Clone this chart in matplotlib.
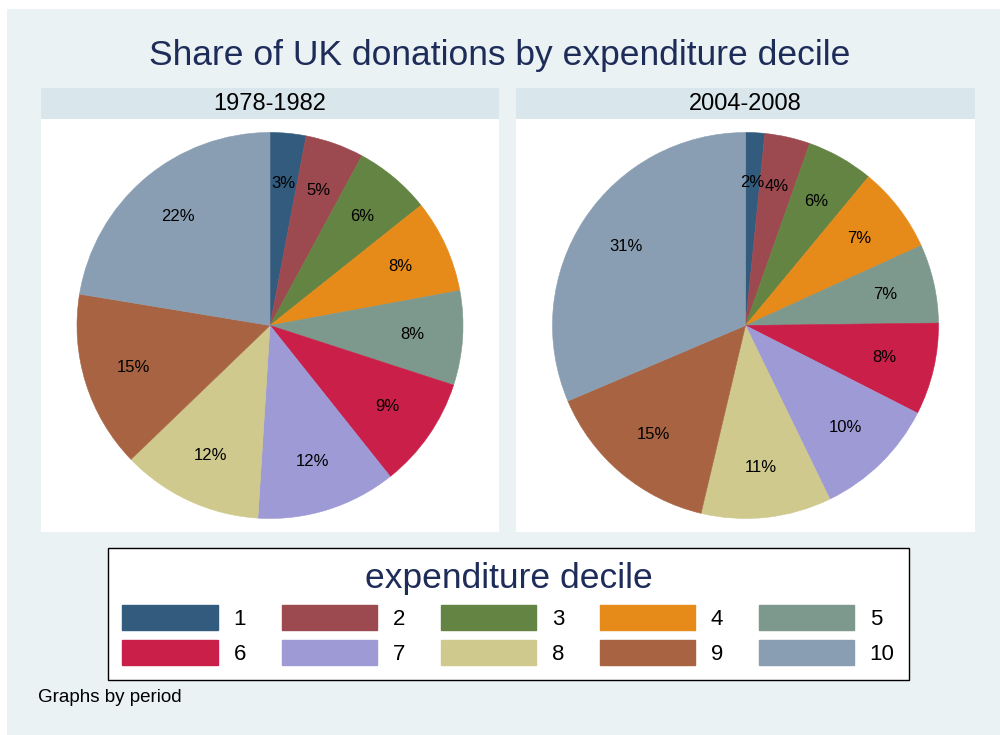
import matplotlib
matplotlib.use('Agg')
import matplotlib.pyplot as plt
from matplotlib.patches import Rectangle, Patch

plt.rcParams['font.family'] = ['Liberation Sans', 'DejaVu Sans']

# data
deciles = ['1', '2', '3', '4', '5', '6', '7', '8', '9', '10']
periods = ['1978-1982', '2004-2008']
share_1978 = [3.0, 4.9, 6.4, 7.8, 7.9, 9.3, 11.7, 11.8, 14.8, 22.4]
share_2004 = [1.6, 3.8, 5.6, 7.2, 6.6, 7.7, 10.3, 10.9, 14.9, 31.4]

# stata s2color-like palette
colors = ['#335B7E', '#9C4A50', '#648444', '#E68A1A', '#7D988C',
          '#C91F48', '#9E9AD6', '#CFC98D', '#A86442', '#8A9EB3']
BG = '#EAF2F3'
STRIP = '#D9E6EB'
NAVY = '#1E2C5A'

W, H = 1000, 735
fig = plt.figure(figsize=(W / 100, H / 100), dpi=100, facecolor='white')

# outer light background
fig.patches.append(Rectangle((7 / W, 0), 1 - 7 / W, 1 - 9 / H, transform=fig.transFigure,
                             facecolor=BG, edgecolor='none', zorder=-10))

fig.text(0.5, 1 - 55 / H, 'Share of UK donations by expenditure decile',
         ha='center', va='center', fontsize=25.5, color=NAVY)

panels = [(41, 499), (516, 975)]
top, bottom = 119, 532
strip_h = 31
radius_px = 193

for (x0, x1), period, vals in zip(panels, periods, [share_1978, share_2004]):
    ax = fig.add_axes([x0 / W, 1 - bottom / H, (x1 - x0) / W, (bottom - top) / H])
    wedges, texts, autotexts = ax.pie(vals, colors=colors, startangle=90, counterclock=False,
                                      autopct='%1.0f%%', pctdistance=0.74,
                                      wedgeprops=dict(linewidth=0.4),
                                      textprops=dict(fontsize=12, color='black'))
    for w, c in zip(wedges, colors):
        w.set_edgecolor(c)
    ax.set_frame_on(True)  # pie() switches the white plot region off
    ax.set_facecolor('white')
    half = (bottom - top) / 2 / radius_px
    ax.set_ylim(-half, half)
    ax.set_xlim(-half * (x1 - x0) / (bottom - top), half * (x1 - x0) / (bottom - top))
    ax.set_aspect('auto')
    ax.set_xticks([])
    ax.set_yticks([])
    for s in ax.spines.values():
        s.set_visible(False)
    # strip title
    ax.add_patch(Rectangle((0, 1), 1, strip_h / (bottom - top), transform=ax.transAxes,
                           facecolor=STRIP, edgecolor='none', clip_on=False))
    ax.text(0.5, 1 + strip_h / 2 / (bottom - top), period, transform=ax.transAxes,
            ha='center', va='center', fontsize=17, color='black')

# legend filled row by row (matplotlib fills column by column)
ncol = 5
order = [r * ncol + c for c in range(ncol) for r in range(2)]
handles = [Patch(facecolor=colors[i], edgecolor=colors[i]) for i in order]
labels = [deciles[i] for i in order]
leg = fig.legend(handles, labels, ncol=ncol, mode='expand',
                 bbox_to_anchor=(108 / W, 1 - 676 / H, 801 / W, 128 / H), loc='upper left',
                 fontsize=16, title='expenditure decile', title_fontsize=25.5,
                 handlelength=4.3, handleheight=1.35, handletextpad=0.7,
                 labelspacing=0.45, borderpad=0.65, borderaxespad=0,
                 fancybox=False, framealpha=1, edgecolor='black', facecolor='white')
leg.get_title().set_color(NAVY)
leg.get_frame().set_linewidth(1.0)

fig.text(38 / W, 1 - 698 / H, 'Graphs by period', ha='left', va='center', fontsize=13.5)

plt.savefig('out.png', dpi=100, facecolor='white')
